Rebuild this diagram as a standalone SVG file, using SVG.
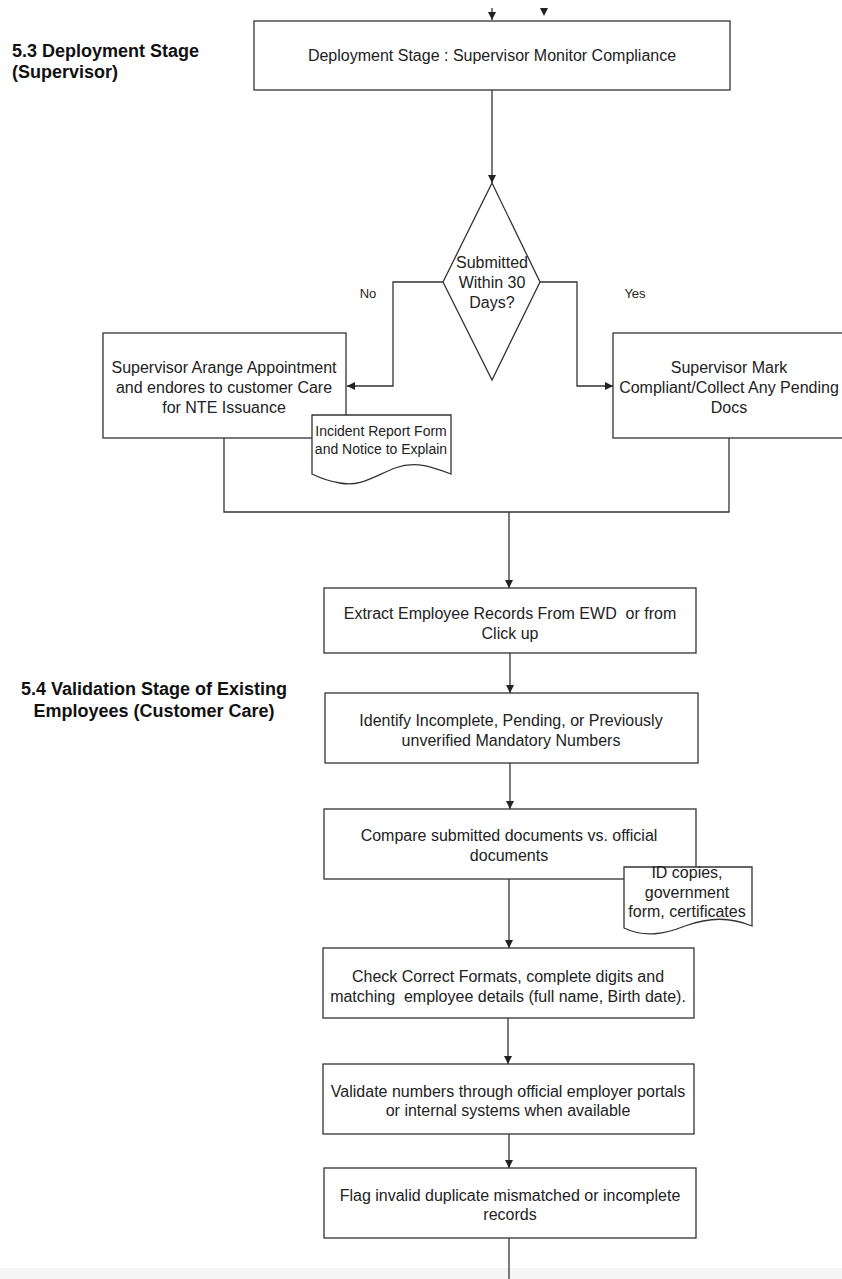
<svg xmlns="http://www.w3.org/2000/svg" width="842" height="1279" viewBox="0 0 842 1279">
<style>
.box{fill:#fff;stroke:#333;stroke-width:1.3}
.ln{fill:none;stroke:#333;stroke-width:1.3}
.t{font-family:"Liberation Sans",Arial,sans-serif;font-size:16px;fill:#222;text-anchor:middle;white-space:pre}
.s{font-size:14px}
.lbl{font-family:"Liberation Sans",Arial,sans-serif;font-size:13px;fill:#222;text-anchor:middle}
.h{font-family:"Liberation Sans",Arial,sans-serif;font-size:18px;font-weight:bold;fill:#111}
</style>
<defs>
<marker id="ah" viewBox="0 0 10 10" refX="10" refY="5" markerWidth="9" markerHeight="8" markerUnits="userSpaceOnUse" orient="auto">
<path d="M0,0 L10,5 L0,10 z" fill="#222"/>
</marker>
</defs>
<rect x="0" y="0" width="842" height="1279" fill="#fff"/>
<rect x="0" y="1268" width="842" height="11" fill="#f5f5f5"/>

<g id="titles">
<text class="h" x="12" y="57">5.3 Deployment Stage</text>
<text class="h" x="12" y="78">(Supervisor)</text>
<text class="h" x="154" y="695" text-anchor="middle">5.4 Validation Stage of Existing</text>
<text class="h" x="154" y="717" text-anchor="middle">Employees (Customer Care)</text>
</g>

<g id="connectors">
<path class="ln" d="M492,8 V20" marker-end="url(#ah)"/>
<path d="M540,8 L548,8 L544,16 z" fill="#222"/>
<path class="ln" d="M492,90 V183" marker-end="url(#ah)"/>
<path class="ln" d="M443,282 H393 V386 H347" marker-end="url(#ah)"/>
<path class="ln" d="M540,282 H577 V386 H613" marker-end="url(#ah)"/>
<path class="ln" d="M224,438 V512 H729 V438"/>
<path class="ln" d="M509,512 V588" marker-end="url(#ah)"/>
<path class="ln" d="M510,653 V693" marker-end="url(#ah)"/>
<path class="ln" d="M510,763 V809" marker-end="url(#ah)"/>
<path class="ln" d="M509,879 V948" marker-end="url(#ah)"/>
<path class="ln" d="M508,1018 V1064" marker-end="url(#ah)"/>
<path class="ln" d="M509,1134 V1168" marker-end="url(#ah)"/>
<path class="ln" d="M509,1238 V1279"/>
<text class="lbl" x="368" y="298">No</text>
<text class="lbl" x="635" y="298">Yes</text>
</g>

<g id="n-monitor">
<rect class="box" x="254" y="21" width="476" height="69"/>
<text class="t" x="492" y="61">Deployment Stage : Supervisor Monitor Compliance</text>
</g>

<g id="n-decision">
<polygon class="box" points="492,183 540,282 492,380 443,282"/>
<text class="t" x="492" y="268">Submitted</text>
<text class="t" x="492" y="288">Within 30</text>
<text class="t" x="492" y="308">Days?</text>
</g>

<g id="n-nte">
<rect class="box" x="103" y="333" width="243" height="105"/>
<text class="t" x="224" y="373">Supervisor Arange Appointment</text>
<text class="t" x="224" y="393">and endores to customer Care</text>
<text class="t" x="224" y="413">for NTE Issuance</text>
</g>

<g id="n-incident-doc">
<path class="box" d="M312,415 H451 V474 C430,466 415,461 395,468 C375,476 360,487 340,483 C328,481 318,477 312,474 Z"/>
<text class="t s" x="381" y="436">Incident Report Form</text>
<text class="t s" x="381" y="454">and Notice to Explain</text>
</g>

<g id="n-compliant">
<rect class="box" x="613" y="333" width="233" height="105"/>
<text class="t" x="729" y="373">Supervisor Mark</text>
<text class="t" x="729" y="393">Compliant/Collect Any Pending</text>
<text class="t" x="729" y="413">Docs</text>
</g>

<g id="n-extract">
<rect class="box" x="324" y="588" width="372" height="65"/>
<text class="t" x="510" y="619">Extract Employee Records From EWD  or from</text>
<text class="t" x="510" y="639">Click up</text>
</g>

<g id="n-identify">
<rect class="box" x="325" y="693" width="373" height="70"/>
<text class="t" x="511" y="726">Identify Incomplete, Pending, or Previously</text>
<text class="t" x="511" y="746">unverified Mandatory Numbers</text>
</g>

<g id="n-compare">
<rect class="box" x="324" y="809" width="372" height="70"/>
<text class="t" x="509" y="841">Compare submitted documents vs. official</text>
<text class="t" x="509" y="861">documents</text>
</g>

<g id="n-id-doc">
<path class="box" d="M624,867 H752 V926 C730,917 710,917 685,926 C665,934 645,938 624,928 Z"/>
<text class="t" x="687" y="878">ID copies,</text>
<text class="t" x="687" y="898">government</text>
<text class="t" x="687" y="917">form, certificates</text>
</g>

<g id="n-check">
<rect class="box" x="323" y="948" width="371" height="70"/>
<text class="t" x="508" y="982">Check Correct Formats, complete digits and</text>
<text class="t" x="508" y="1002">matching  employee details (full name, Birth date).</text>
</g>

<g id="n-validate">
<rect class="box" x="323" y="1064" width="371" height="70"/>
<text class="t" x="508" y="1097">Validate numbers through official employer portals</text>
<text class="t" x="508" y="1116">or internal systems when available</text>
</g>

<g id="n-flag">
<rect class="box" x="324" y="1168" width="372" height="70"/>
<text class="t" x="510" y="1201">Flag invalid duplicate mismatched or incomplete</text>
<text class="t" x="510" y="1220">records</text>
</g>
</svg>
